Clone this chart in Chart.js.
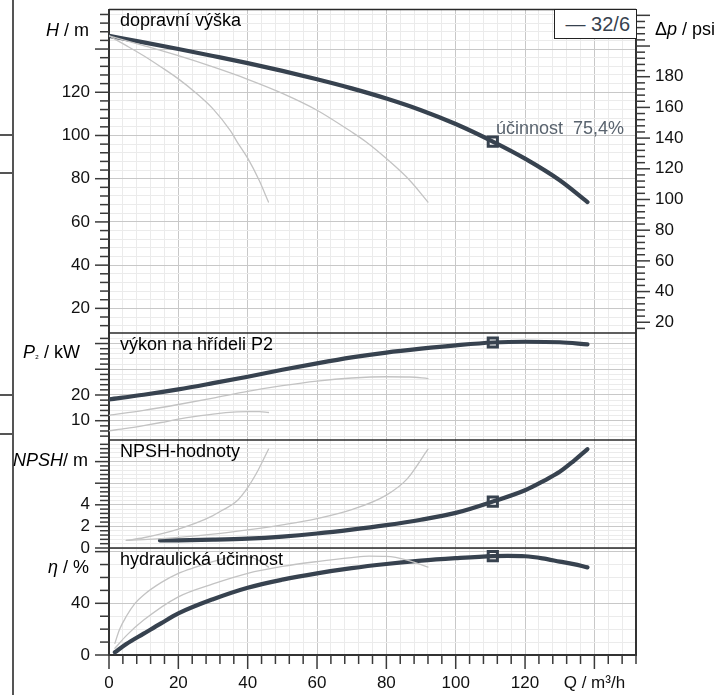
<!DOCTYPE html>
<html>
<head>
<meta charset="utf-8">
<script src="https://cdn.jsdelivr.net/npm/chart.js@4.4.1/dist/chart.umd.min.js"></script>
<style>
  html, body { margin: 0; padding: 0; background: #fff; }
  #wrap { position: relative; width: 728px; height: 695px; font-family: "Liberation Sans", Arial, sans-serif; }
  canvas { position: absolute; left: 0; top: 0; }
  .t { position: absolute; font-size: 18px; line-height: 18px; white-space: pre; color: #000; }
  .r { text-align: right; }
  .edge { position: absolute; background: #555; }
  #legend { position: absolute; left: 554px; top: 9px; width: 81px; height: 28px; border: 1.5px solid #222;
            font-size: 20px; line-height: 28px; text-align: right; color: #37424f; box-sizing: content-box; background: #fff; }
  #legend span { padding-right: 6px; }
</style>
</head>
<body>
<div id="wrap">
  <canvas id="curves" width="728" height="695"></canvas>

  <div class="edge" style="left:12px; top:0; width:1.5px; height:695px;"></div>
  <div class="edge" style="left:0; top:134px; width:14px; height:1.5px;"></div>
  <div class="edge" style="left:0; top:172px; width:14px; height:1.5px;"></div>
  <div class="edge" style="left:0; top:394px; width:14px; height:1.5px;"></div>
  <div class="edge" style="left:0; top:433px; width:14px; height:1.5px;"></div>

  <div class="t" style="left:120px; top:11px;">dopravní výška</div>
  <div class="t" style="left:120px; top:335px;">výkon na hřídeli P2</div>
  <div class="t" style="left:120px; top:442px;">NPSH-hodnoty</div>
  <div class="t" style="left:120px; top:550px;">hydraulická účinnost</div>
  <div class="t" style="left:496px; top:119px; color:#59636e;">účinnost  75,4%</div>

  <div class="t r" style="right:639px; top:21px;"><i>H</i> / m</div>
  <div class="t r" style="right:648px; top:343px;"><i>P</i><span style="font-size:10px">₂</span> / kW</div>
  <div class="t r" style="right:640px; top:451px;"><i>NPSH</i>/ m</div>
  <div class="t r" style="right:639px; top:558px;"><i>η</i> / %</div>
  <div class="t" style="left:655px; top:20px;">Δ<i>p</i> / psi</div>

  <div id="legend"><span>— 32/6</span></div>
</div>

<script>
// pump 32/6 curves, Q in m3/h
const qHead = [0, 10, 20, 30, 40, 50, 60, 70, 80, 90, 100, 110.7, 120, 130, 138];
const headMain = [146.1, 143.1, 140.0, 136.8, 133.5, 129.9, 126.0, 121.8, 117.1, 111.7, 105.3, 97.2, 89.3, 79.3, 69.2];
const qHeadB = [0, 10, 20, 30, 40, 50, 60, 70, 74, 80, 86.7, 92];
const headB = [146.1, 141.6, 136.9, 131.7, 126.0, 119.5, 111.7, 101.6, 97.2, 89.3, 79.3, 69.2];
const qHeadA = [0, 5, 10, 15, 20, 25, 30, 35, 36.9, 40, 43.3, 46];
const headA = [146.1, 141.6, 136.9, 131.7, 126.2, 119.8, 112.3, 102.2, 97.2, 89.5, 79.3, 69.2];

const qPower = [0, 10, 20, 30, 40, 50, 60, 70, 80, 90, 100, 110.7, 120, 130, 138];
const powerMain = [18.3, 20.1, 22.2, 24.6, 27.1, 29.8, 32.3, 34.6, 36.5, 38.0, 39.3, 40.4, 40.7, 40.5, 39.7];
const qPowerB = [0, 10, 20, 30, 40, 50, 60, 70, 80, 86.7, 92];
const powerB = [12.1, 14.0, 16.3, 18.8, 21.4, 23.6, 25.4, 26.6, 27.1, 27.0, 26.4];
const qPowerA = [0, 5, 10, 15, 20, 25, 30, 36.9, 40, 43.3, 46];
const powerA = [6.1, 7.0, 8.1, 9.3, 10.6, 11.7, 12.6, 13.4, 13.5, 13.5, 13.2];

const qNpsh = [14.7, 20, 30, 40, 50, 60, 70, 80, 90, 100, 110.7, 120, 125, 130, 134, 138];
const npshMain = [0.70, 0.71, 0.77, 0.87, 1.06, 1.34, 1.70, 2.12, 2.62, 3.25, 4.30, 5.35, 6.15, 7.05, 8.05, 9.15];
const qNpshB = [5, 10, 20, 30, 40, 50, 60, 70, 80, 86, 92];
const npshB = [0.70, 0.78, 0.98, 1.28, 1.68, 2.15, 2.72, 3.55, 4.90, 6.40, 9.15];
const qNpshA = [5, 10, 15, 20, 25, 30, 33, 36.7, 40, 43, 46];
const npshA = [0.70, 0.95, 1.30, 1.75, 2.30, 3.00, 3.55, 4.30, 5.60, 7.20, 9.15];

const qEta = [1.7, 5, 10, 15, 20, 30, 40, 50, 60, 70, 80, 90, 100, 110.7, 115, 120, 125, 130, 134, 138];
const etaMain = [2.1, 8.5, 16.5, 24.5, 32.2, 43.2, 52.1, 58.3, 63.2, 67.2, 70.4, 73.0, 74.9, 76.5, 76.7, 76.4, 74.8, 72.3, 70.3, 67.8];
const qEtaB = [1.7, 5, 10, 20, 30, 40, 50, 60, 70, 75, 80, 86, 92];
const etaB = [5.2, 15, 27, 45, 55, 63.2, 68.5, 72.3, 75.4, 76.5, 76.3, 73.5, 68.0];
const qEtaA = [1.7, 3, 5, 7.5, 10, 15, 20, 25, 30, 37, 40, 43, 46];
const etaA = [9.0, 19.5, 30, 40, 46.5, 56, 63.2, 68.0, 72.3, 76.5, 76.2, 73.5, 68.0];

// duty point
const dutyQ = 110.7;
const dutyHead = 97.2;
const dutyPower = 40.4;
const dutyNpsh = 4.30;
const dutyEta = 76.5;

// tick labels
const qTickLabels = [0, 20, 40, 60, 80, 100, 120];
const headTickLabels = [20, 40, 60, 80, 100, 120];
const powerTickLabels = [10, 20];
const npshTickLabels = [0, 2, 4];
const etaTickLabels = [0, 40];
const psiTickLabels = [20, 40, 60, 80, 100, 120, 140, 160, 180];

const DARK = '#37424f';
const GREY = '#c3c3c3';

function pts(xs, ys) {
    return xs.map((x, i) => ({ x: x, y: ys[i] }));
}

function steps(from, to, step) {
    const out = [];
    for (let i = 0; from + i * step <= to + 1e-9; i++) {
        out.push({ value: +(from + i * step).toFixed(2) });
    }
    return out;
}

function isMajor(v, major) {
    return Math.abs(v / major - Math.round(v / major)) < 1e-6;
}

// minor step, major step, tick range for every axis
const axisTicks = {
    x:    { from: 0,  to: 152, step: 4,   major: 20 },
    yH:   { from: 12, to: 156, step: 4,   major: 20 },
    yP:   { from: 4,  to: 42,  step: 2,   major: 10 },
    yN:   { from: 0,  to: 9.6, step: 0.4, major: 2 },
    yE:   { from: 0,  to: 80,  step: 10,  major: 40 },
    yPsi: { from: 16, to: 220, step: 4,   major: 20 }
};

function labelCb(labels) {
    return v => labels.includes(v) ? String(v) : '';
}

// no extra room for labels hanging over the ends, the layout is fixed
function fixSize(s, w, h) {
    if (w !== null) s.width = w;
    if (h !== null) s.height = h;
    s.paddingTop = 0;
    s.paddingBottom = 0;
    s.paddingLeft = 0;
    s.paddingRight = 0;
}

function panelAxis(id, labels, min, max, heightWeight, order) {
    const a = axisTicks[id];
    return {
        type: 'linear', position: 'left', stack: 'left', stackWeight: heightWeight, weight: order,
        min: min, max: max,
        afterBuildTicks: s => { s.ticks = steps(a.from, a.to, a.step); },
        afterFit: s => fixSize(s, 109, null),
        grid: {
            drawTicks: false,
            color: c => isMajor(c.tick.value, a.major) ? '#c8c8c8' : '#ebebeb'
        },
        border: { display: true, color: '#333', width: 2 },
        ticks: { autoSkip: false, padding: 19, callback: labelCb(labels) }
    };
}

function rightDummy(heightWeight, order) {
    return {
        type: 'linear', position: 'right', stack: 'right', stackWeight: heightWeight, weight: order,
        afterFit: s => fixSize(s, 92, null),
        grid: { display: false, drawTicks: false },
        border: { display: true, color: '#333', width: 2 },
        ticks: { display: false }
    };
}

const tickMarks = {
    id: 'tickMarks',
    afterDraw(chart) {
        const ctx = chart.ctx;
        const area = chart.chartArea;
        ctx.save();
        ctx.strokeStyle = '#3a3a3a';
        ctx.lineWidth = 1.5;
        Object.keys(axisTicks).forEach(id => {
            const s = chart.scales[id];
            const major = axisTicks[id].major;
            s.ticks.forEach(t => {
                const p = s.getPixelForValue(t.value);
                const len = isMajor(t.value, major) ? 14 : 9;
                ctx.beginPath();
                if (s.position === 'left') {
                    ctx.moveTo(s.right, p); ctx.lineTo(s.right - len, p);
                } else if (s.position === 'right') {
                    ctx.moveTo(s.left, p); ctx.lineTo(s.left + len, p);
                } else {
                    ctx.moveTo(p, s.top); ctx.lineTo(p, s.top + len);
                }
                ctx.stroke();
            });
        });
        // panel separators
        ctx.strokeStyle = '#2a2a2a';
        ctx.lineWidth = 1.5;
        ['yH', 'yP', 'yN', 'yE'].forEach(id => {
            const y = chart.scales[id].top;
            ctx.beginPath();
            ctx.moveTo(area.left, y);
            ctx.lineTo(area.right, y);
            ctx.stroke();
        });
        ctx.restore();
    }
};

function line(data, axis, main) {
    return {
        data: data, yAxisID: axis, showLine: true,
        borderColor: main ? DARK : GREY,
        borderWidth: main ? 4.2 : 1.3,
        pointRadius: 0,
        fill: false,
        cubicInterpolationMode: 'monotone',
        borderCapStyle: 'round',
        borderJoinStyle: 'round'
    };
}

function marker(q, v, axis) {
    return {
        data: [{ x: q, y: v }], yAxisID: axis, showLine: false,
        pointStyle: 'rect', pointRadius: 6.5, borderWidth: 3,
        borderColor: DARK, backgroundColor: '#ffffff'
    };
}

Chart.defaults.font.family = '"Liberation Sans", Arial, sans-serif';
Chart.defaults.font.size = 17;
Chart.defaults.color = '#111';

new Chart(document.getElementById('curves'), {
    type: 'line',
    data: {
        datasets: [
            line(pts(qHeadA, headA), 'yH', false),
            line(pts(qHeadB, headB), 'yH', false),
            line(pts(qPowerA, powerA), 'yP', false),
            line(pts(qPowerB, powerB), 'yP', false),
            line(pts(qNpshA, npshA), 'yN', false),
            line(pts(qNpshB, npshB), 'yN', false),
            line(pts(qEtaA, etaA), 'yE', false),
            line(pts(qEtaB, etaB), 'yE', false),
            line(pts(qHead, headMain), 'yH', true),
            line(pts(qPower, powerMain), 'yP', true),
            line(pts(qNpsh, npshMain), 'yN', true),
            line(pts(qEta, etaMain), 'yE', true),
            marker(dutyQ, dutyHead, 'yH'),
            marker(dutyQ, dutyPower, 'yP'),
            marker(dutyQ, dutyNpsh, 'yN'),
            marker(dutyQ, dutyEta, 'yE')
        ]
    },
    options: {
        responsive: false,
        animation: false,
        layout: { padding: { top: 9.5, left: 0, right: 0, bottom: 0 } },
        plugins: { legend: { display: false }, tooltip: { enabled: false } },
        scales: {
            x: {
                type: 'linear', position: 'bottom', min: 0, max: 152,
                afterBuildTicks: s => { s.ticks = steps(0, 152, 4); },
                afterFit: s => fixSize(s, null, 40),
                grid: {
                    drawTicks: false,
                    color: c => isMajor(c.tick.value, 20) ? '#c8c8c8' : '#ebebeb'
                },
                border: { display: true, color: '#333', width: 2 },
                ticks: {
                    autoSkip: false, maxRotation: 0, padding: 18,
                    callback: v => v === 140 ? 'Q / m³/h' : (qTickLabels.includes(v) ? String(v) : '')
                }
            },
            yH: panelAxis('yH', headTickLabels, 8.6, 158.3, 323.5, 4),
            yP: panelAxis('yP', powerTickLabels, 2.5, 44.1, 107, 3),
            yN: panelAxis('yN', npshTickLabels, 0, 10, 108, 2),
            yE: panelAxis('yE', etaTickLabels, 0, 82.8, 107, 1),
            yPsi: {
                type: 'linear', position: 'right', stack: 'right', stackWeight: 323.5, weight: 1,
                min: 13, max: 223.8,
                afterBuildTicks: s => { s.ticks = steps(16, 220, 4); },
                afterFit: s => fixSize(s, 92, null),
                grid: { display: false, drawTicks: false },
                border: { display: true, color: '#333', width: 2 },
                ticks: { autoSkip: false, padding: 19, callback: labelCb(psiTickLabels) }
            },
            rP: rightDummy(107, 2),
            rN: rightDummy(108, 3),
            rE: rightDummy(107, 4)
        }
    },
    plugins: [tickMarks]
});
</script>
</body>
</html>
